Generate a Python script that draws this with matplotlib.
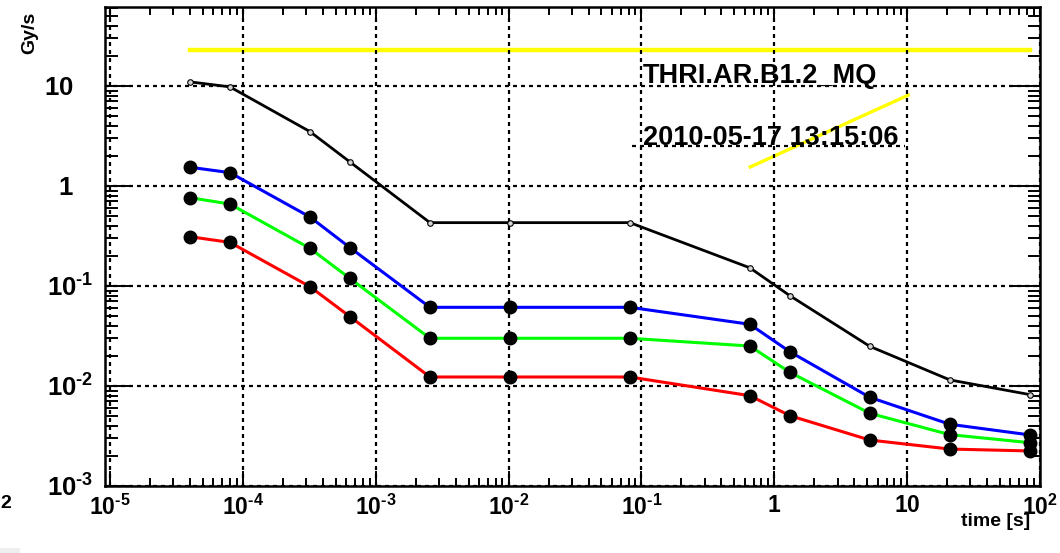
import matplotlib
matplotlib.use("Agg")
import matplotlib.pyplot as plt
from matplotlib.ticker import FixedLocator, FixedFormatter, NullFormatter, LogLocator
from matplotlib.transforms import ScaledTranslation
from matplotlib.patches import Rectangle

plt.rcParams['font.family'] = ['Liberation Sans', 'DejaVu Sans']
plt.rcParams['font.weight'] = 'bold'
plt.rcParams['mathtext.fontset'] = 'custom'
plt.rcParams['mathtext.rm'] = 'Liberation Sans:bold'
plt.rcParams['mathtext.it'] = 'Liberation Sans:bold'
plt.rcParams['mathtext.bf'] = 'Liberation Sans:bold'
plt.rcParams['mathtext.default'] = 'rm'

# BLM running sum integration times [s]
times = [4e-5, 8e-5, 3.2e-4, 6.4e-4, 2.56e-3, 1.024e-2, 8.192e-2,
         0.655, 1.31, 5.24, 20.97, 83.89]

thresh_black = [11.0, 9.8, 3.5, 1.74, 0.43, 0.43, 0.43,
                0.152, 0.080, 0.0249, 0.0115, 0.0082]
dose_blue = [1.54, 1.36, 0.49, 0.242, 0.0612, 0.0612, 0.0612,
             0.0414, 0.022, 0.0077, 0.00414, 0.00324]
dose_green = [0.764, 0.66, 0.238, 0.119, 0.030, 0.030, 0.030,
              0.0251, 0.0137, 0.00533, 0.00326, 0.00271]
dose_red = [0.311, 0.273, 0.0985, 0.0494, 0.0123, 0.0123, 0.0123,
            0.0080, 0.00505, 0.00288, 0.00234, 0.00224]

yellow_level_x = [4e-5, 83.89]
yellow_level_y = [23.0, 23.0]
yellow_diag_x = [0.66, 10.2]
yellow_diag_y = [1.55, 8.1]

monitor_name = "THRI.AR.B1.2_MQ"
timestamp = "2010-05-17 13:15:06"

xticks = [1e-5, 1e-4, 1e-3, 1e-2, 1e-1, 1, 10, 100]
xticklabels = [r'$10^{\text{-}5}$', r'$10^{\text{-}4}$', r'$10^{\text{-}3}$',
               r'$10^{\text{-}2}$', r'$10^{\text{-}1}$', '$1$', '$10$', '$10^{2}$']
yticks = [1e-3, 1e-2, 1e-1, 1, 10]
yticklabels = [r'$10^{\text{-}3}$', r'$10^{\text{-}2}$', r'$10^{\text{-}1}$',
               '$1$', '$10$']

fig = plt.figure(figsize=(10.6, 5.53), dpi=100)
ax = fig.add_axes([0.0986, 0.1212, 0.8825, 0.8656])

ax.set_xscale('log')
ax.set_yscale('log')
ax.set_xlim(10 ** -5.041, 100)
ax.set_ylim(1e-3, 10 ** 1.787)

ax.grid(which='major', color='k', linestyle=(0, (1.8, 1.8)), linewidth=1.6)
ax.set_axisbelow(False)

ax.plot(yellow_level_x, yellow_level_y, color='#ffff00', lw=3.2, zorder=2)
ax.plot(yellow_diag_x, yellow_diag_y, color='#ffff00', lw=2.4, zorder=2)

ax.plot(times, thresh_black, color='k', lw=2.0, marker='o', ms=4,
        mfc='lightgray', mec='k', mew=0.8, zorder=3)
ax.plot(times, dose_blue, color='#0000ff', lw=2.2, marker='o', ms=9,
        mfc='k', mec='k', zorder=3)
ax.plot(times, dose_green, color='#00ff00', lw=2.2, marker='o', ms=9,
        mfc='k', mec='k', zorder=3)
ax.plot(times, dose_red, color='#ff0000', lw=2.2, marker='o', ms=9,
        mfc='k', mec='k', zorder=3)

# dotted border under the info text
ax.plot([0.564, 0.856], [0.710, 0.710], transform=ax.transAxes, color='k',
        linestyle=(0, (1.8, 1.8)), lw=1.6, zorder=2)
ax.text(0.5756, 0.842, monitor_name, transform=ax.transAxes, fontsize=19.5,
        fontweight='bold', va='baseline', ha='left', zorder=4)
ax.text(0.5756, 0.712, timestamp, transform=ax.transAxes, fontsize=19.5,
        fontweight='bold', va='baseline', ha='left', zorder=4)

ax.xaxis.set_major_locator(FixedLocator(xticks))
ax.xaxis.set_major_formatter(FixedFormatter(xticklabels))
ax.yaxis.set_major_locator(FixedLocator(yticks))
ax.yaxis.set_major_formatter(FixedFormatter(yticklabels))
ax.xaxis.set_minor_locator(LogLocator(base=10, subs=range(2, 10), numticks=20))
ax.yaxis.set_minor_locator(LogLocator(base=10, subs=range(2, 10), numticks=20))
ax.xaxis.set_minor_formatter(NullFormatter())
ax.yaxis.set_minor_formatter(NullFormatter())

ax.tick_params(which='both', direction='in', top=True, right=True,
               width=1.4, colors='k')
ax.tick_params(axis='x', which='major', length=11, pad=6, labelsize=16.5)
ax.tick_params(axis='x', which='minor', length=5.5)
ax.tick_params(axis='y', which='major', length=20, pad=8, labelsize=18.5)
ax.tick_params(axis='y', which='minor', length=9)

for sp in ax.spines.values():
    sp.set_linewidth(1.8)

# "1" and "10" sit further left, as if they had a superscript
for tk in ax.yaxis.get_major_ticks()[3:]:
    tk.label1.set_transform(tk.label1.get_transform() +
                            ScaledTranslation(-0.2, 0, fig.dpi_scale_trans))

fig.text(30 / 1060, 1 - 33 / 553, 'Gy/s', rotation=90, ha='center',
         va='center', fontsize=14, fontweight='bold')
fig.text(1030 / 1060, 1 - 522 / 553, 'time [s]', ha='right', va='center',
         fontsize=14, fontweight='bold')
fig.text(0.0, 1 - 504 / 553, '2', ha='left', va='center',
         fontsize=14, fontweight='bold')
fig.patches.append(Rectangle((0, 0), 20 / 1060, 5 / 553, transform=fig.transFigure,
                             facecolor='#eeeeee', edgecolor='none'))

fig.savefig('out.png', dpi=100)
